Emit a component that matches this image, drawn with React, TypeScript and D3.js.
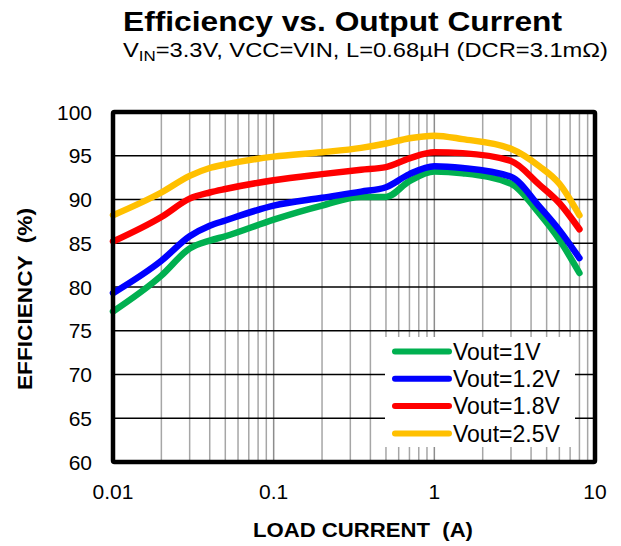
import { useRef, useEffect } from "react";
import * as d3 from "d3";

// Data
const current = [0.01, 0.02, 0.03, 0.04, 0.05, 0.1, 0.2, 0.35, 0.5, 0.7, 1, 1.5, 3, 4.5, 6, 8];
const eff1v0 = [77.2, 81.3, 84.4, 85.3, 85.8, 87.7, 89.3, 90.3, 90.3, 92.1, 93.2, 93.0, 91.8, 88.4, 85.4, 81.6];
const eff1v2 = [79.3, 83.0, 85.8, 87.0, 87.6, 89.3, 90.2, 90.9, 91.4, 92.9, 93.8, 93.6, 92.6, 89.2, 86.5, 83.3];
const eff1v8 = [85.2, 88.0, 90.1, 90.8, 91.2, 92.2, 92.9, 93.4, 93.7, 94.7, 95.4, 95.3, 94.4, 91.7, 89.6, 86.6];
const eff2v5 = [88.2, 90.8, 92.7, 93.6, 94.0, 94.9, 95.4, 95.9, 96.4, 97.0, 97.3, 96.9, 95.8, 93.8, 91.8, 88.2];

const seriesNames = ["Vout=1V", "Vout=1.2V", "Vout=1.8V", "Vout=2.5V"];
const seriesColors = ["#00b050", "#0000ff", "#ff0000", "#ffc000"];
const seriesValues = [eff1v0, eff1v2, eff1v8, eff2v5];

const yTicks = [60, 65, 70, 75, 80, 85, 90, 95, 100];
const xTicks = [0.01, 0.1, 1, 10];
const xTickLabels = ["0.01", "0.1", "1", "10"];

export default function App() {
  const ref = useRef<SVGSVGElement>(null);

  useEffect(() => {
    const width = 621,
      height = 546;
    const margin = { top: 112, right: 26, bottom: 84, left: 113 };
    const font = "'Liberation Sans', Arial, sans-serif";

    const svg = d3.select(ref.current);
    svg.selectAll("*").remove();

    const x = d3.scaleLog().domain([0.01, 10]).range([margin.left, width - margin.right]);
    const y = d3.scaleLinear().domain([60, 100]).range([height - margin.bottom, margin.top]);

    // Title
    svg
      .append("text")
      .attr("x", 123)
      .attr("y", 31)
      .attr("font-family", font)
      .attr("font-weight", "bold")
      .attr("font-size", 27)
      .attr("textLength", 439)
      .attr("lengthAdjust", "spacingAndGlyphs")
      .text("Efficiency vs. Output Current");

    const sub = svg
      .append("text")
      .attr("x", 123)
      .attr("y", 57)
      .attr("font-family", font)
      .attr("font-size", 21)
      .attr("textLength", 485)
      .attr("lengthAdjust", "spacingAndGlyphs");
    sub.append("tspan").text("V");
    sub.append("tspan").attr("font-size", 15).attr("dy", 4).text("IN");
    sub.append("tspan").attr("dy", -4).text("=3.3V, VCC=VIN, L=0.68µH (DCR=3.1mΩ)");

    // Vertical grid (log minor lines)
    const minors: number[] = [];
    for (const dec of [0.01, 0.1, 1]) {
      for (let k = 1; k <= 9; k++) minors.push(dec * k);
    }
    svg
      .append("g")
      .selectAll("line")
      .data(minors.filter((d) => d > 0.01))
      .join("line")
      .attr("x1", (d) => x(d))
      .attr("x2", (d) => x(d))
      .attr("y1", y(100))
      .attr("y2", y(60))
      .attr("stroke", (d) => (Math.abs(Math.log10(d) - Math.round(Math.log10(d))) < 1e-6 ? "#8c8c8c" : "#a6a6a6"))
      .attr("stroke-width", 1.5);

    // Horizontal grid
    svg
      .append("g")
      .selectAll("line")
      .data(yTicks.filter((d) => d > 60 && d < 100))
      .join("line")
      .attr("x1", x(0.01))
      .attr("x2", x(10))
      .attr("y1", (d) => y(d))
      .attr("y2", (d) => y(d))
      .attr("stroke", "#000")
      .attr("stroke-width", 1.5);

    // Y tick labels
    svg
      .append("g")
      .selectAll("text")
      .data(yTicks)
      .join("text")
      .attr("x", 92)
      .attr("y", (d) => y(d))
      .attr("dy", "0.36em")
      .attr("text-anchor", "end")
      .attr("font-family", font)
      .attr("font-size", 21)
      .text((d) => d);

    // X tick labels
    svg
      .append("g")
      .selectAll("text")
      .data(xTicks)
      .join("text")
      .attr("x", (d) => x(d))
      .attr("y", 499)
      .attr("text-anchor", "middle")
      .attr("font-family", font)
      .attr("font-size", 21)
      .text((d, i) => xTickLabels[i]);

    // Axis titles
    svg
      .append("text")
      .attr("x", 253)
      .attr("y", 537)
      .attr("font-family", font)
      .attr("font-weight", "bold")
      .attr("font-size", 19.5)
      .attr("xml:space", "preserve")
      .attr("textLength", 220)
      .attr("lengthAdjust", "spacingAndGlyphs")
      .text("LOAD CURRENT  (A)");

    svg
      .append("text")
      .attr("transform", "translate(32,390) rotate(-90)")
      .attr("font-family", font)
      .attr("font-weight", "bold")
      .attr("font-size", 19.5)
      .attr("xml:space", "preserve")
      .attr("textLength", 182)
      .attr("lengthAdjust", "spacingAndGlyphs")
      .text("EFFICIENCY  (%)");

    // Curves
    const line = d3
      .line<number>()
      .x((d, i) => x(current[i]))
      .y((d) => y(d))
      .curve(d3.curveMonotoneX);

    svg
      .append("g")
      .selectAll("path")
      .data(seriesValues)
      .join("path")
      .attr("d", (d) => line(d))
      .attr("fill", "none")
      .attr("stroke", (d, i) => seriesColors[i])
      .attr("stroke-width", 6.5)
      .attr("stroke-linecap", "round")
      .attr("stroke-linejoin", "round");

    // Legend
    const lg = svg.append("g");
    lg.append("rect")
      .attr("x", 385)
      .attr("y", 337)
      .attr("width", 190)
      .attr("height", 110)
      .attr("fill", "#fff");
    const rows = lg
      .selectAll("g")
      .data(seriesNames)
      .join("g")
      .attr("transform", (d, i) => `translate(0,${351.5 + i * 27.3})`);
    rows
      .append("line")
      .attr("x1", 395)
      .attr("x2", 449)
      .attr("stroke", (d, i) => seriesColors[i])
      .attr("stroke-width", 6)
      .attr("stroke-linecap", "round");
    rows
      .append("text")
      .attr("x", 453)
      .attr("dy", "0.36em")
      .attr("font-family", font)
      .attr("font-size", 23)
      .text((d) => d);

    // Frame
    svg
      .append("rect")
      .attr("x", x(0.01))
      .attr("y", y(100))
      .attr("width", x(10) - x(0.01))
      .attr("height", y(60) - y(100))
      .attr("fill", "none")
      .attr("stroke", "#000")
      .attr("stroke-width", 4.5)
      .attr("rx", 1.5);
  }, []);

  return (
    <svg
      ref={ref}
      width={621}
      height={546}
      style={{ position: "absolute", left: 0, top: 0, background: "#fff" }}
    />
  );
}
